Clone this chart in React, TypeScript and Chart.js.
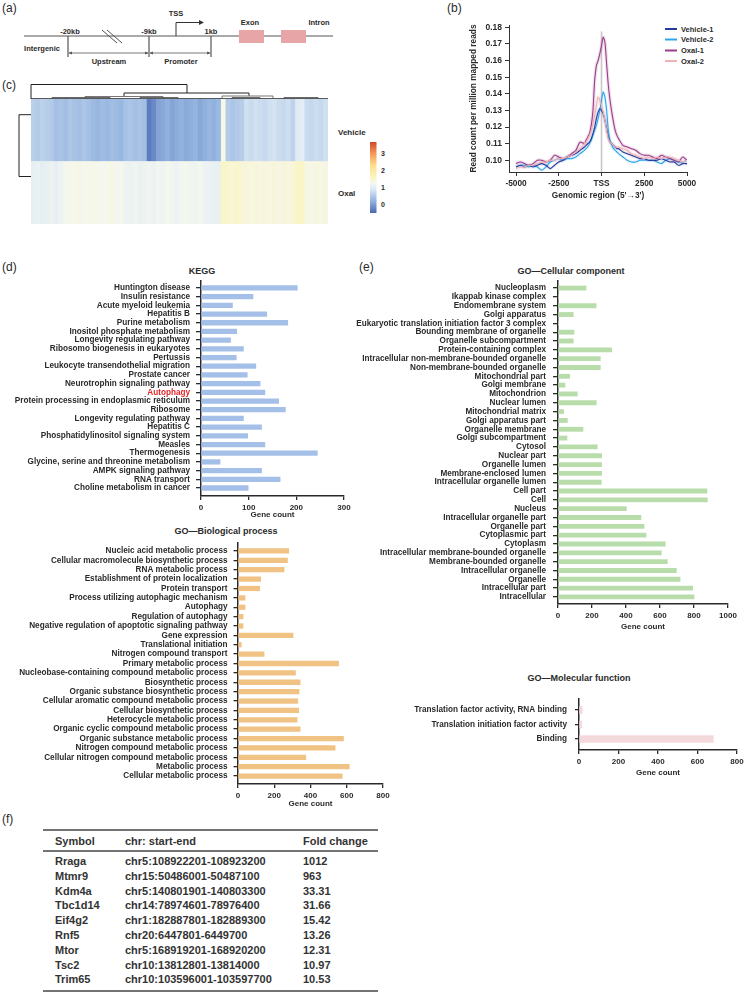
import React, { useEffect, useRef } from 'react';
import { Chart, registerables } from 'chart.js';
Chart.register(...registerables);

const FAMILY = '"Liberation Sans", Arial, Helvetica, "DejaVu Sans", sans-serif';
const INK = '#2a2a2a';

// ---------- (b) TSS profile ----------
const GENOMIC_POS = [-5000,-4750,-4500,-4250,-4000,-3750,-3500,-3250,-3000,-2750,-2500,-2250,-2000,-1750,-1500,-1250,-1000,
  -900,-800,-700,-600,-500,-400,-300,-200,-100,0,100,200,300,400,500,600,700,800,900,
  1000,1250,1500,1750,2000,2250,2500,2750,3000,3250,3500,3750,4000,4250,4500,4750,5000];
const VEHICLE_1 = [0.096,0.097,0.096,0.097,0.096,0.097,0.098,0.097,0.095,0.097,0.099,0.100,0.102,0.103,0.104,0.106,0.108,
  0.109,0.110,0.111,0.113,0.116,0.120,0.125,0.129,0.131,0.130,0.128,0.124,0.119,0.114,0.111,0.110,0.109,0.108,0.107,
  0.107,0.105,0.104,0.103,0.102,0.101,0.101,0.100,0.100,0.100,0.101,0.100,0.099,0.099,0.097,0.098,0.098];
const VEHICLE_2 = [0.096,0.097,0.097,0.096,0.097,0.096,0.094,0.096,0.099,0.100,0.101,0.100,0.101,0.101,0.102,0.104,0.106,
  0.107,0.108,0.110,0.112,0.115,0.118,0.121,0.125,0.130,0.136,0.141,0.138,0.130,0.118,0.112,0.109,0.107,0.106,0.105,
  0.104,0.102,0.100,0.099,0.099,0.100,0.100,0.100,0.100,0.099,0.098,0.100,0.101,0.100,0.099,0.099,0.100];
const OXAL_1 = [0.098,0.099,0.098,0.097,0.098,0.100,0.100,0.099,0.100,0.103,0.102,0.101,0.102,0.104,0.106,0.111,0.110,
  0.112,0.114,0.116,0.121,0.130,0.148,0.157,0.160,0.164,0.169,0.174,0.171,0.158,0.145,0.136,0.129,0.123,0.118,0.115,
  0.113,0.109,0.108,0.107,0.106,0.104,0.103,0.103,0.102,0.101,0.103,0.102,0.101,0.100,0.099,0.102,0.100];
const OXAL_2 = [0.095,0.096,0.096,0.097,0.097,0.098,0.099,0.099,0.100,0.100,0.101,0.101,0.102,0.103,0.105,0.107,0.110,
  0.111,0.113,0.115,0.118,0.122,0.127,0.133,0.138,0.136,0.133,0.129,0.124,0.118,0.113,0.111,0.110,0.109,0.108,0.108,
  0.108,0.107,0.106,0.104,0.103,0.102,0.101,0.102,0.101,0.102,0.101,0.102,0.102,0.101,0.100,0.099,0.100];
const PROFILE_X_TICKS = [-5000, -2500, 0, 2500, 5000];
const PROFILE_Y_TICKS = [0.10, 0.11, 0.12, 0.13, 0.14, 0.15, 0.16, 0.17, 0.18];
const PROFILE_SERIES = ['Vehicle-1', 'Vehicle-2', 'Oxal-1', 'Oxal-2'];

// ---------- (c) heatmap ----------
const HEAT_VEHICLE = [0.58,0.52,0.60,0.55,0.50, 0.38,0.42,0.35,0.45,0.40,0.36,0.44,0.38, 0.30,0.26,0.33,0.28,0.35,0.31,0.27,
  0.40,0.44,0.38,0.42,0.36, -0.32,-0.20, 0.05,0.10,0.18,0.08,0.14,0.20,0.12,0.16,0.22,0.10,0.18,0.25,0.20,0.28, 1.30,
  0.52,0.45,0.50,0.55, 0.78,0.72,0.80,0.75,0.70,0.78,0.82,0.74,0.70,0.76,0.62, 0.95,1.00, 0.72,0.68,0.75,0.70,0.78];
const HEAT_OXAL = [1.05,1.10,1.02,1.08,1.12,1.06,1.15,1.25, 1.30,1.28,1.35,1.25,1.30,1.32,1.28,1.25,1.30,1.35,1.22,1.28,
  1.15,1.12,1.18,1.10,1.15,1.20,1.12, 1.22,1.18,1.25,1.20,1.15,1.22,1.28,1.20,1.18,1.25,1.15,1.12,1.10,1.08,
  1.55,1.50,1.48,1.52,1.45, 1.40,1.38,1.42,1.35,1.40,1.38,1.42,1.36,1.40,1.38,1.45, 1.58,1.55, 1.35,1.30,1.38,1.32,1.35];
const HEAT_ROWS = ['Vehicle', 'Oxal'];
const COLORBAR_TICKS = [3, 2, 1, 0];

// ---------- (d) KEGG ----------
const KEGG_LABELS = ['Huntington disease','Insulin resistance','Acute myeloid leukemia','Hepatitis B','Purine metabolism',
  'Inositol phosphate metabolism','Longevity regulating pathway','Ribosomo biogenesis in eukaryotes','Pertussis',
  'Leukocyte transendothelial migration','Prostate cancer','Neurotrophin signaling pathway','Autophagy',
  'Protein processing in endoplasmic reticulum','Ribosome','Longevity regulating pathway','Hepatitis C',
  'Phosphatidylinositol signaling system','Measles','Thermogenesis','Glycine, serine and threonine metabolism',
  'AMPK signaling pathway','RNA transport','Choline metabolism in cancer'];
const KEGG_VALUES = [202,109,66,138,182,75,62,89,74,115,97,124,134,163,177,89,127,98,134,244,40,127,166,99];
const KEGG_TICKS = [0, 100, 200, 300];

// ---------- GO biological process ----------
const BP_LABELS = ['Nucleic acid metabolic process','Cellular macromolecule biosynthetic process','RNA metabolic process',
  'Establishment of protein localization','Protein transport','Process utilizing autophagic mechanism','Autophagy',
  'Regulation of autophagy','Negative regulation of apoptotic signaling pathway','Gene expression','Translational initiation',
  'Nitrogen compound transport','Primary metabolic process','Nucleobase-containing compound metabolic process',
  'Biosynthetic process','Organic substance biosynthetic process','Cellular aromatic compound metabolic process',
  'Cellular biosynthetic process','Heterocycle metabolic process','Organic cyclic compound metabolic process',
  'Organic substance metabolic process','Nitrogen compound metabolic process','Cellular nitrogen compound metabolic process',
  'Metabolic process','Cellular metabolic process'];
const BP_VALUES = [280,273,254,125,120,39,39,28,28,304,18,144,555,317,343,337,330,335,326,343,582,536,374,614,575];
const BP_TICKS = [0, 200, 400, 600, 800];

// ---------- GO cellular component ----------
const CC_LABELS = ['Nucleoplasm','Ikappab kinase complex','Endomembrane system','Golgi apparatus',
  'Eukaryotic translation initiation factor 3 complex','Bounding membrane of organelle','Organelle subcompartment',
  'Protein-containing complex','Intracellular non-membrane-bounded organelle','Non-membrane-bounded organelle',
  'Mitochondrial part','Golgi membrane','Mitochondrion','Nuclear lumen','Mitochondrial matrix','Golgi apparatus part',
  'Organelle membrane','Golgi subcompartment','Cytosol','Nuclear part','Organelle lumen','Membrane-enclosed lumen',
  'Intracellular organelle lumen','Cell part','Cell','Nucleus','Intracellular organelle part','Organelle part',
  'Cytoplasmic part','Cytoplasm','Intracellular membrane-bounded organelle','Membrane-bounded organelle',
  'Intracellular organelle','Organelle','Intracellular part','Intracellular'];
const CC_VALUES = [165,4,224,90,4,94,90,316,249,249,69,41,114,225,33,55,147,53,231,257,257,257,255,876,878,402,488,506,518,631,608,643,696,718,792,800];
const CC_TICKS = [0, 200, 400, 600, 800, 1000];

// ---------- GO molecular function ----------
const MF_LABELS = ['Translation factor activity, RNA binding', 'Translation initiation factor activity', 'Binding'];
const MF_VALUES = [16, 13, 680];
const MF_TICKS = [0, 200, 400, 600, 800];

// ---------- (f) table ----------
const TABLE_HEAD = ['Symbol', 'chr: start-end', 'Fold change'];
const TABLE_SYMBOL = ['Rraga','Mtmr9','Kdm4a','Tbc1d14','Eif4g2','Rnf5','Mtor','Tsc2','Trim65'];
const TABLE_LOCUS = ['chr5:108922201-108923200','chr15:50486001-50487100','chr5:140801901-140803300','chr14:78974601-78976400',
  'chr1:182887801-182889300','chr20:6447801-6449700','chr5:168919201-168920200','chr10:13812801-13814000','chr10:103596001-103597700'];
const TABLE_FOLD = ['1012','963','33.31','31.66','15.42','13.26','12.31','10.97','10.53'];

// ---------- colour map ----------
const PAL_STOPS = [-0.5, 0.2, 0.9, 1.25, 1.6, 2.3, 3.0, 3.7];
const PAL_COLS = ['#4a69b3', '#92b2de', '#dce9f4', '#f4f7f0', '#fbf5c2', '#fde08e', '#f59a5d', '#d2462b'];
function hexRgb(h: string) { return [parseInt(h.slice(1, 3), 16), parseInt(h.slice(3, 5), 16), parseInt(h.slice(5, 7), 16)]; }
function heatColor(v: number) {
  const n = PAL_STOPS.length;
  if (v <= PAL_STOPS[0]) return PAL_COLS[0];
  if (v >= PAL_STOPS[n - 1]) return PAL_COLS[n - 1];
  let i = 0;
  while (v > PAL_STOPS[i + 1]) i++;
  const t = (v - PAL_STOPS[i]) / (PAL_STOPS[i + 1] - PAL_STOPS[i]);
  const a = hexRgb(PAL_COLS[i]), b = hexRgb(PAL_COLS[i + 1]);
  const c = a.map((x, k) => Math.round(x + (b[k] - x) * t));
  return `rgb(${c[0]},${c[1]},${c[2]})`;
}

const tickFont = (size: number) => ({ family: FAMILY, size, weight: 'bold' as const });

type HBarProps = {
  box: [number, number, number, number];
  plot: { left: number; right: number; top: number; bottom: number };
  labels: string[];
  values: number[];
  color: string;
  thickness: number;
  xMax: number;
  xTicks: number[];
  yRange: [number, number];
  tickLen: number;
  tickPad: number;
  highlight?: number;
  labelSize?: number;
};

function HBar(p: HBarProps) {
  const ref = useRef<HTMLCanvasElement>(null);
  useEffect(() => {
    const [L, T, W, H] = p.box;
    const yw = p.plot.left - L;
    const xh = T + H - p.plot.bottom;
    const chart = new Chart(ref.current!, {
      type: 'bar',
      data: {
        datasets: [{
          data: p.values.map((v, i) => ({ x: v, y: i })),
          backgroundColor: p.color,
          borderWidth: 0,
          barThickness: p.thickness,
        }],
      },
      options: {
        indexAxis: 'y',
        responsive: false,
        animation: false,
        maintainAspectRatio: false,
        layout: { padding: { top: p.plot.top - T, right: L + W - p.plot.right, left: 0, bottom: 0 } },
        plugins: { legend: { display: false }, tooltip: { enabled: false } },
        scales: {
          x: {
            type: 'linear', min: 0, max: p.xMax, offset: false,
            afterBuildTicks: (s: any) => { s.ticks = p.xTicks.map((v) => ({ value: v })); },
            ticks: { font: tickFont(8), color: INK, padding: 3, maxRotation: 0, callback: (v: any) => String(v) },
            grid: { offset: false, drawOnChartArea: false, tickLength: 4, color: INK, lineWidth: 1.3 },
            border: { color: INK, width: 1.5 },
            title: { display: true, text: 'Gene count', font: tickFont(8), color: INK, padding: { top: 0, bottom: 2 } },
            afterFit: (s: any) => { s.height = xh; s.paddingLeft = 0; s.paddingRight = 0; },
          },
          y: {
            type: 'linear', reverse: true, min: p.yRange[0], max: p.yRange[1], offset: false, bounds: 'data',
            afterBuildTicks: (s: any) => { s.ticks = p.labels.map((_, i) => ({ value: i })); },
            ticks: {
              autoSkip: false,
              font: tickFont(p.labelSize || 8.2),
              padding: p.tickPad,
              color: (c: any) => (c.tick && c.tick.value === p.highlight ? '#e3282b' : INK),
              callback: (v: any) => p.labels[v] ?? '',
            },
            grid: { offset: false, drawOnChartArea: false, tickLength: p.tickLen, color: INK, lineWidth: 1.3 },
            border: { color: INK, width: 1.5 },
            afterFit: (s: any) => { s.width = yw; s.paddingTop = 0; s.paddingBottom = 0; },
          },
        },
      } as any,
    });
    return () => chart.destroy();
  }, []);
  const [L, T, W, H] = p.box;
  return <canvas ref={ref} width={W} height={H} style={{ position: 'absolute', left: L, top: T, width: W, height: H }} />;
}

const PROFILE_COLORS = ['#283a9c', '#2ca4e8', '#9c3d8b', '#f2b1b4'];
const PROFILE_BANDS = ['rgba(40,58,156,0.10)', 'rgba(44,164,232,0.10)', 'rgba(156,61,139,0.16)', 'rgba(242,177,180,0.25)'];

function ProfileChart() {
  const ref = useRef<HTMLCanvasElement>(null);
  const box = [440, 15, 300, 188];
  useEffect(() => {
    const data = [VEHICLE_1, VEHICLE_2, OXAL_1, OXAL_2];
    const pts = (arr: number[]) => arr.map((y, i) => ({ x: GENOMIC_POS[i], y }));
    const drawOrder = [2, 3, 1, 0];
    const datasets: any[] = [];
    data.forEach((arr, i) => {
      datasets.push({ label: PROFILE_SERIES[i], data: pts(arr), borderColor: PROFILE_COLORS[i], borderWidth: 1.1, pointRadius: 0, tension: 0.25, order: drawOrder[i] });
      datasets.push({ label: PROFILE_SERIES[i] + ' band', data: pts(arr), borderColor: PROFILE_BANDS[i], borderWidth: 3.5, pointRadius: 0, tension: 0.25, order: 10 + i });
    });
    datasets.push({ label: 'TSS', data: [{ x: 0, y: 0.093 }, { x: 0, y: 0.1775 }], borderColor: '#c8c8c8', borderWidth: 1.6, pointRadius: 0, order: 30 });
    const chart = new Chart(ref.current!, {
      type: 'line',
      data: { datasets },
      options: {
        responsive: false, animation: false, maintainAspectRatio: false,
        layout: { padding: { top: 10, right: 53, left: 0, bottom: 0 } },
        plugins: { legend: { display: false }, tooltip: { enabled: false } },
        scales: {
          x: {
            type: 'linear', min: -5410, max: 5000,
            afterBuildTicks: (s: any) => { s.ticks = PROFILE_X_TICKS.map((v) => ({ value: v })); },
            ticks: { font: tickFont(8.3), color: INK, padding: 3, maxRotation: 0, callback: (v: any) => (v === 0 ? 'TSS' : String(v)) },
            grid: { drawOnChartArea: false, tickLength: 4, color: '#333', lineWidth: 1 },
            border: { color: '#333', width: 1 },
            title: { display: true, text: "Genomic region (5'\u21923')", font: tickFont(8.3), color: INK, padding: { top: 0, bottom: 2 } },
            afterFit: (s: any) => { s.height = 31; s.paddingLeft = 0; s.paddingRight = 0; },
          },
          y: {
            type: 'linear', min: 0.09296, max: 0.18138,
            afterBuildTicks: (s: any) => { s.ticks = PROFILE_Y_TICKS.map((v) => ({ value: v })); },
            ticks: { font: tickFont(8.5), color: INK, padding: 3, callback: (v: any) => Number(v).toFixed(2) },
            grid: { drawOnChartArea: false, tickLength: 4, color: '#333', lineWidth: 1 },
            border: { color: '#333', width: 1 },
            title: { display: true, text: 'Read count per million mapped reads', font: tickFont(8.3), color: INK, padding: { top: 29, bottom: 0 } },
            afterFit: (s: any) => { s.width = 69; s.paddingTop = 0; s.paddingBottom = 0; },
          },
        },
      } as any,
    });
    return () => chart.destroy();
  }, []);
  return <canvas ref={ref} width={box[2]} height={box[3]} style={{ position: 'absolute', left: box[0], top: box[1], width: box[2], height: box[3] }} />;
}

function HeatmapChart() {
  const ref = useRef<HTMLCanvasElement>(null);
  const box = [31, 99, 297, 125];
  useEffect(() => {
    const labels = HEAT_VEHICLE.map((_, i) => String(i + 1));
    const chart = new Chart(ref.current!, {
      type: 'bar',
      data: {
        labels,
        datasets: [
          { label: HEAT_ROWS[1], data: HEAT_OXAL.map(() => 1), backgroundColor: HEAT_OXAL.map(heatColor), borderWidth: 0, categoryPercentage: 1, barPercentage: 1 },
          { label: HEAT_ROWS[0], data: HEAT_VEHICLE.map(() => 1), backgroundColor: HEAT_VEHICLE.map(heatColor), borderWidth: 0, categoryPercentage: 1, barPercentage: 1 },
        ],
      },
      options: {
        responsive: false, animation: false, maintainAspectRatio: false,
        layout: { padding: 0 },
        plugins: { legend: { display: false }, tooltip: { enabled: false } },
        scales: {
          x: { stacked: true, display: false },
          y: { stacked: true, display: false, min: 0, max: 2 },
        },
      } as any,
    });
    return () => chart.destroy();
  }, []);
  return <canvas ref={ref} width={box[2]} height={box[3]} style={{ position: 'absolute', left: box[0], top: box[1], width: box[2], height: box[3] }} />;
}

const Txt = (props: { x: number; y: number; s?: number; w?: string; a?: string; c?: string; children: any }) => (
  <text x={props.x} y={props.y} fontSize={props.s ?? 8} fontWeight={props.w ?? 'bold'} textAnchor={props.a ?? 'middle'}
    dominantBaseline="central" fill={props.c ?? INK} fontFamily={FAMILY}>{props.children}</text>
);

function Overlay() {
  const g = '#555';
  const lo = PAL_STOPS[0], hi = PAL_STOPS[PAL_STOPS.length - 1];
  const gradStops = PAL_STOPS.map((v, i) => ({ off: (v - lo) / (hi - lo), col: PAL_COLS[i] }));
  const cbTop = 142, cbBot = 213;
  const cbY = (v: number) => cbBot - ((v - lo) / (hi - lo)) * (cbBot - cbTop);
  const rowY = (i: number) => 861 + i * 14.8;
  return (
    <svg width={744} height={993} style={{ position: 'absolute', left: 0, top: 0 }}>
      <defs>
        <marker id="ah" viewBox="0 0 6 6" refX="5.5" refY="3" markerWidth="4" markerHeight="4" orient="auto-start-reverse">
          <path d="M0,0 L6,3 L0,6 z" fill={g} />
        </marker>
        <linearGradient id="cb" x1="0" y1="1" x2="0" y2="0">
          {gradStops.map((s, i) => <stop key={i} offset={s.off} stopColor={s.col} />)}
        </linearGradient>
      </defs>

      {/* panel letters */}
      <Txt x={2} y={8} s={12} w="normal" a="start">(a)</Txt>
      <Txt x={447} y={8} s={12} w="normal" a="start">(b)</Txt>
      <Txt x={2} y={85} s={12} w="normal" a="start">(c)</Txt>
      <Txt x={2} y={267} s={12} w="normal" a="start">(d)</Txt>
      <Txt x={359} y={267} s={12} w="normal" a="start">(e)</Txt>
      <Txt x={2} y={819} s={12} w="normal" a="start">(f)</Txt>

      {/* (a) gene structure diagram */}
      <line x1={24} y1={36} x2={333} y2={36} stroke={g} strokeWidth={1} />
      <line x1={102} y1={30} x2={117} y2={43} stroke={g} strokeWidth={1} />
      <line x1={107} y1={30} x2={122} y2={43} stroke={g} strokeWidth={1} />
      <line x1={68} y1={36} x2={68} y2={57} stroke={g} strokeWidth={1.2} />
      <line x1={149} y1={36} x2={149} y2={57} stroke={g} strokeWidth={1.2} />
      <line x1={211} y1={36} x2={211} y2={57} stroke={g} strokeWidth={1.2} />
      <line x1={69} y1={53} x2={148} y2={53} stroke={g} strokeWidth={0.8} markerStart="url(#ah)" markerEnd="url(#ah)" />
      <line x1={150} y1={53} x2={210} y2={53} stroke={g} strokeWidth={0.8} markerStart="url(#ah)" markerEnd="url(#ah)" />
      <path d="M176,36 V22.5 H200" fill="none" stroke="#333" strokeWidth={1} />
      <path d="M199,20 L204,22.5 L199,25 z" fill="#333" />
      <rect x={239} y={30} width={25} height={13} fill="#e8a5a8" />
      <rect x={281} y={30} width={25} height={13} fill="#e8a5a8" />
      <Txt x={176} y={13} s={7.5}>TSS</Txt>
      <Txt x={70} y={31} s={7.5}>-20kb</Txt>
      <Txt x={149} y={31} s={7.5}>-9kb</Txt>
      <Txt x={211} y={31} s={7.5}>1kb</Txt>
      <Txt x={250} y={22} s={7.5}>Exon</Txt>
      <Txt x={319} y={22} s={7.5}>Intron</Txt>
      <Txt x={42} y={48} s={7.5}>Intergenic</Txt>
      <Txt x={109} y={61} s={7.5}>Upstream</Txt>
      <Txt x={181} y={61} s={7.5}>Promoter</Txt>

      {/* (b) legend */}
      {PROFILE_SERIES.map((name, i) => {
        const y = [29, 39.5, 50.5, 61][i];
        return (
          <g key={name}>
            <line x1={665} y1={y} x2={677} y2={y} stroke={PROFILE_COLORS[i]} strokeWidth={2} />
            <Txt x={681} y={y} s={7.5} a="start">{name}</Txt>
          </g>
        );
      })}

      {/* (c) dendrograms */}
      <path d="M31,99 V84.5 H187 V93" fill="none" stroke="#222" strokeWidth={1} />
      <path d="M124,96.5 V93 H249 V96" fill="none" stroke="#222" strokeWidth={1} />
      <path d="M85,98.5 V96.5 H163 V98.5" fill="none" stroke="#777" strokeWidth={1} />
      <path d="M222,98.5 V96 H273 V98.5" fill="none" stroke="#777" strokeWidth={1} />
      <path d="M52,98.5 V97.5 H110 V98.5 M140,98.5 V97.5 H178 V98.5 M232,98.5 V97.5 H260 V98.5 M284,98.5 V97.5 H318 V98.5" fill="none" stroke="#444" strokeWidth={0.8} />
      <line x1={31} y1={98.7} x2={328} y2={98.7} stroke="#333" strokeWidth={1} />
      <path d="M31,114.7 H19 V176.5 H31" fill="none" stroke="#222" strokeWidth={1} />
      <Txt x={338} y={132} s={8} a="start">{HEAT_ROWS[0]}</Txt>
      <Txt x={338} y={193} s={8} a="start">{HEAT_ROWS[1]}</Txt>
      <rect x={370} y={cbTop} width={6.5} height={cbBot - cbTop} fill="url(#cb)" />
      {COLORBAR_TICKS.map((t) => <Txt key={t} x={381} y={cbY(t)} s={7} a="start">{t}</Txt>)}

      {/* chart titles */}
      <Txt x={202} y={271} s={9}>KEGG</Txt>
      <Txt x={226} y={531} s={9}>GO—Biological process</Txt>
      <Txt x={571} y={271} s={9}>GO—Cellular component</Txt>
      <Txt x={579} y={678} s={9}>GO—Molecular function</Txt>

      {/* (f) table */}
      <line x1={43} y1={830} x2={378} y2={830} stroke="#444" strokeWidth={1.6} />
      <line x1={43} y1={851} x2={378} y2={851} stroke="#444" strokeWidth={1.3} />
      <line x1={43} y1={991} x2={378} y2={991} stroke="#444" strokeWidth={1.6} />
      {TABLE_HEAD.map((h, i) => <Txt key={h} x={[55, 125, 303][i]} y={841} s={11} a="start" c="#333">{h}</Txt>)}
      {TABLE_SYMBOL.map((s, i) => (
        <g key={s}>
          <Txt x={55} y={rowY(i)} s={11} a="start" c="#333">{s}</Txt>
          <Txt x={125} y={rowY(i)} s={11} a="start" c="#333">{TABLE_LOCUS[i]}</Txt>
          <Txt x={303} y={rowY(i)} s={11} a="start" c="#333">{TABLE_FOLD[i]}</Txt>
        </g>
      ))}
    </svg>
  );
}

export default function App() {
  return (
    <div style={{ position: 'absolute', left: 0, top: 0, width: 744, height: 993, background: '#fff', overflow: 'hidden' }}>
      <Overlay />
      <ProfileChart />
      <HeatmapChart />
      <HBar box={[0, 276, 362, 246]} plot={{ left: 201, right: 344, top: 281, bottom: 496 }}
        labels={KEGG_LABELS} values={KEGG_VALUES} color="#a4bfe8" thickness={4.6}
        xMax={300} xTicks={KEGG_TICKS} yRange={[-0.8, 23.92]} tickLen={5} tickPad={6} highlight={12} />
      <HBar box={[0, 535, 395, 276]} plot={{ left: 238, right: 383, top: 543, bottom: 784 }}
        labels={BP_LABELS} values={BP_VALUES} color="#f0c283" thickness={4.6}
        xMax={800} xTicks={BP_TICKS} yRange={[-0.85, 24.85]} tickLen={4.5} tickPad={6} />
      <HBar box={[345, 276, 399, 358]} plot={{ left: 558, right: 728, top: 281, bottom: 604 }}
        labels={CC_LABELS} values={CC_VALUES} color="#b9dcab" thickness={4.2}
        xMax={1000} xTicks={CC_TICKS} yRange={[-0.8, 35.8]} tickLen={5} tickPad={7} />
      <HBar box={[370, 690, 374, 90]} plot={{ left: 579, right: 737, top: 699, bottom: 750 }}
        labels={MF_LABELS} values={MF_VALUES} color="#f4d9dc" thickness={7}
        xMax={800} xTicks={MF_TICKS} yRange={[-0.76, 2.76]} tickLen={4} tickPad={8} />
    </div>
  );
}
